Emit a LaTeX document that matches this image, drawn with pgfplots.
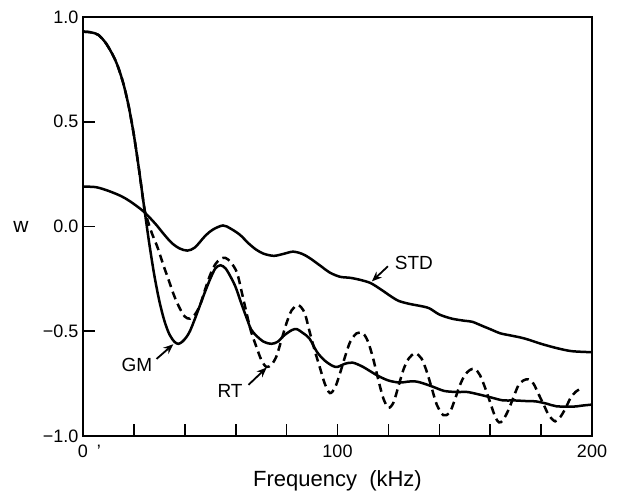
\documentclass[border=0pt]{standalone}
\usepackage{fontspec}
\setmainfont{Liberation Sans}
\usepackage{pgfplots}
\pgfplotsset{compat=1.18}
\usetikzlibrary{arrows.meta}

\pgfplotstableread{
x y
0 0.19
5 0.188
10 0.17
15 0.145
18.5 0.12
23 0.08
26 0.045
29 0.005
32 -0.04
35 -0.08
38 -0.105
41 -0.115
44 -0.1
48 -0.045
51 -0.015
55 0.005
58 -0.01
61.7 -0.04
65 -0.08
68 -0.11
71 -0.13
75 -0.14
79 -0.13
82.5 -0.12
86 -0.13
89 -0.15
93 -0.185
97 -0.22
101 -0.24
105 -0.245
109 -0.255
113 -0.27
117 -0.3
120.6 -0.33
124 -0.355
128.5 -0.37
132 -0.378
136 -0.39
140 -0.42
145 -0.44
150 -0.45
153 -0.455
157 -0.475
160 -0.49
164 -0.51
168 -0.52
172 -0.53
175 -0.54
180 -0.56
186 -0.58
192 -0.595
200 -0.60
}\stdtab

\pgfplotstableread{
x y
0 0.93
3 0.927
6 0.915
9 0.875
12 0.812
14 0.754
16 0.676
18 0.571
20 0.436
22 0.273
24 0.095
26 -0.078
28 -0.231
30 -0.356
32 -0.451
34 -0.516
36 -0.551
37.5 -0.56
39 -0.55
40.5 -0.53
42 -0.5
44 -0.44
46 -0.375
48 -0.31
50 -0.25
52 -0.2
54 -0.185
56 -0.2
58 -0.24
60 -0.29
62 -0.36
64.4 -0.44
66 -0.49
68 -0.52
71 -0.55
74 -0.56
76.5 -0.55
79 -0.52
82 -0.495
84 -0.49
86.6 -0.51
89 -0.535
92 -0.6
95 -0.64
98 -0.665
100 -0.67
103 -0.655
106 -0.65
110 -0.67
115.5 -0.71
120 -0.735
124.5 -0.745
128 -0.74
131 -0.74
134 -0.75
137.5 -0.765
142 -0.785
147 -0.79
151 -0.79
155 -0.8
160 -0.815
165 -0.83
169 -0.83
174 -0.833
178 -0.835
182 -0.845
186 -0.858
192.5 -0.86
196 -0.855
200 -0.85
}\gmtab

\pgfplotstableread{
x y
0 0.93
3 0.927
6 0.915
9 0.875
12 0.812
14 0.754
16 0.676
18 0.571
20 0.436
22 0.273
24 0.095
25 0.045
27 -0.03
29.3 -0.1
31.6 -0.185
33.5 -0.25
35.8 -0.33
38 -0.39
40 -0.43
42 -0.44
44 -0.42
46 -0.375
48 -0.3
50 -0.23
52 -0.18
54 -0.155
56 -0.15
58 -0.17
60.5 -0.22
62.5 -0.32
64.4 -0.42
66 -0.5
68 -0.57
70 -0.635
72 -0.67
74 -0.66
76 -0.62
78 -0.54
80 -0.46
82 -0.4
84.5 -0.375
87 -0.41
89 -0.5
91 -0.59
93 -0.67
95 -0.75
97 -0.795
99 -0.77
101 -0.7
103 -0.62
105 -0.55
107.5 -0.51
110 -0.51
112 -0.55
114 -0.63
116 -0.73
118 -0.82
120 -0.865
122 -0.84
124 -0.76
126 -0.68
128 -0.63
130.5 -0.605
133 -0.63
135 -0.69
137 -0.77
139 -0.85
141.5 -0.9
144 -0.89
146 -0.83
148 -0.76
150 -0.71
152 -0.685
154 -0.68
156 -0.71
158 -0.77
160 -0.84
162 -0.91
163.5 -0.935
165 -0.925
167 -0.88
169 -0.82
171 -0.76
173 -0.735
175 -0.73
177 -0.75
179 -0.8
181 -0.85
183 -0.9
185.5 -0.93
187.5 -0.91
189.5 -0.87
191.5 -0.82
193.5 -0.79
196 -0.77
}\rttab

\begin{document}
\begin{tikzpicture}
\useasboundingbox (-83pt,-57pt) rectangle (534pt,436pt);
\begin{axis}[
  scale only axis, width=509pt, height=419pt,
  xmin=0, xmax=200, ymin=-1, ymax=1,
  axis line style={line width=1.8pt},
  tick align=inside, xtick pos=bottom, ytick pos=left,
  xtick={0,20,...,200},
  xticklabels={0\rlap{\enspace'},,,,,100,,,,,200},
  ytick={-1,-0.5,0,0.5,1},
  yticklabels={−1.0,−0.5,0.0,0.5,1.0},
  major tick length=12pt,
  tick style={line width=1.6pt, black},
  tick label style={font=\fontsize{18}{20}\selectfont},
  yticklabel style={xshift=-1pt},
  xticklabel style={yshift=-5pt},
  xlabel={Frequency\ \ (kHz)},
  xlabel style={font=\fontsize{22}{25}\selectfont, at={(axis description cs:0.5,0)}, anchor=center, yshift=-45pt},
  clip=false,
]
\addplot[black, line width=2.5pt, smooth] table {\stdtab};
\addplot[black, line width=2.5pt, smooth] table {\gmtab};
\addplot[black, line width=2.5pt, smooth, dash pattern=on 8pt off 5pt] table {\rttab};

\node[font=\fontsize{21}{24}\selectfont] at (axis description cs:-0.122,0.5) {w};

\node[font=\fontsize{19}{22}\selectfont] at (axis cs:130,-0.176) {STD};
\draw[line width=1.8pt, -{Stealth[length=10pt,width=8pt]}] (axis cs:119.8,-0.19) -- (axis cs:113.5,-0.262);
\node[font=\fontsize{19}{22}\selectfont] at (axis cs:21.2,-0.66) {GM};
\draw[line width=1.8pt, -{Stealth[length=10pt,width=8pt]}] (axis cs:28.9,-0.632) -- (axis cs:35.5,-0.562);
\node[font=\fontsize{19}{22}\selectfont] at (axis cs:57.8,-0.786) {RT};
\draw[line width=1.8pt, -{Stealth[length=10pt,width=8pt]}] (axis cs:65,-0.756) -- (axis cs:72.2,-0.673);
\end{axis}
\end{tikzpicture}
\end{document}
